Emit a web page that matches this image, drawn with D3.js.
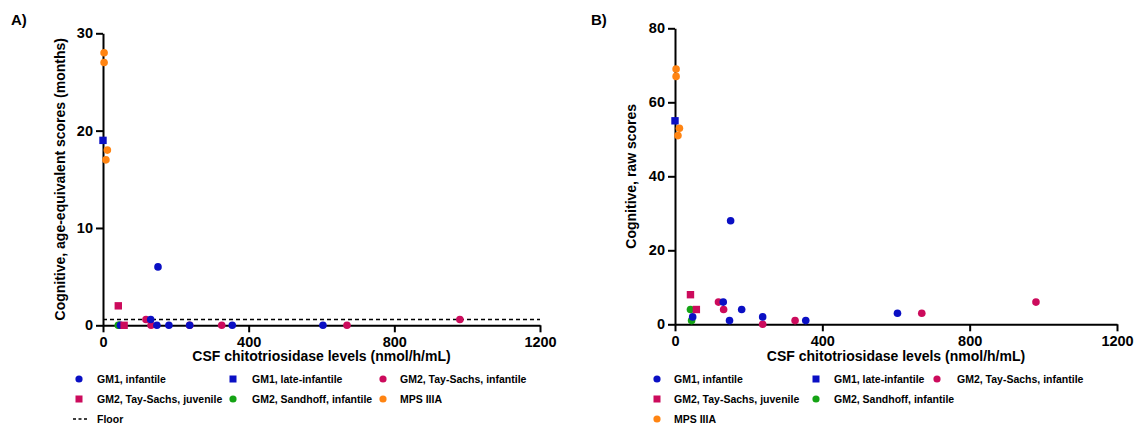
<!DOCTYPE html>
<html>
<head>
<meta charset="utf-8">
<script src="https://cdn.jsdelivr.net/npm/d3@7"></script>
<style>
  body { margin: 0; background: #fff; }
  svg text { font-family: "Liberation Sans", Arial, sans-serif; font-weight: bold; fill: #000; }
</style>
</head>
<body>
<div id="chart"></div>
<script>
const width = 1137;
const height = 427;

// groups, in legend order
const groups = ['GM1, infantile', 'GM1, late-infantile', 'GM2, Tay-Sachs, infantile',
                'GM2, Tay-Sachs, juvenile', 'GM2, Sandhoff, infantile', 'MPS IIIA'];
const groupShapes = ['circle', 'square', 'circle', 'square', 'circle', 'circle'];
const groupColors = ['#0a0fc4', '#0a0fc4', '#cc0b5c', '#cc0b5c', '#14a314', '#ff8412'];

// CSF chitotriosidase (x), cognitive age-equivalent (A) and raw scores (B)
const gm1InfX  = [48, 131, 148, 151, 181, 238, 355, 604];
const gm1InfA  = [0, 0.6, 0, 6, 0, 0, 0, 0];
const gm1InfB  = [2, 6, 1, 28, 4, 2, 1, 3];

const gm1LateX = [0];
const gm1LateA = [19];
const gm1LateB = [55];

const tsInfX   = [118, 132, 238, 326, 670, 980];
const tsInfA   = [0.6, 0, 0, 0, 0, 0.6];
const tsInfB   = [6, 4, 0, 1, 3, 6];

const tsJuvX   = [42, 58];
const tsJuvA   = [2, 0];
const tsJuvB   = [8, 4];

const sandX    = [42, 45];
const sandA    = [0, 0];
const sandB    = [4, 1];

const mpsX     = [3, 3, 12, 8];
const mpsA     = [28, 27, 18, 17];
const mpsB     = [69, 67, 53, 51];

const floorA = 0.6;

const xTicks = [0, 400, 800, 1200];
const yTicksA = [0, 10, 20, 30];
const yTicksB = [0, 20, 40, 60, 80];

const groupX = [gm1InfX, gm1LateX, tsInfX, tsJuvX, sandX, mpsX];
const groupA = [gm1InfA, gm1LateA, tsInfA, tsJuvA, sandA, mpsA];
const groupB = [gm1InfB, gm1LateB, tsInfB, tsJuvB, sandB, mpsB];

// draw order so overlaps look like the original
const drawOrder = [4, 2, 0, 1, 3, 5];

const svg = d3.select('#chart')
    .append('svg')
    .attr('width', width)
    .attr('height', height);

function drawPanel(p) {
    const g = svg.append('g');

    const xScale = d3.scaleLinear().domain([0, 1200]).range([p.left, p.right]);
    const yScale = d3.scaleLinear().domain([0, p.yMax]).range([p.bottom, p.top]);

    const xAxis = d3.axisBottom(xScale).tickValues(xTicks).tickFormat(d3.format('d'))
        .tickSize(7).tickSizeOuter(0).tickPadding(4);
    const yAxis = d3.axisLeft(yScale).tickValues(p.yTicks).tickFormat(d3.format('d'))
        .tickSize(7).tickSizeOuter(0).tickPadding(3);

    const xg = g.append('g')
        .attr('transform', `translate(0, ${p.bottom})`)
        .call(xAxis);
    const yg = g.append('g')
        .attr('transform', `translate(${p.left}, 0)`)
        .call(yAxis);

    [xg, yg].forEach(a => {
        a.selectAll('path, line').attr('stroke', '#000').attr('stroke-width', 2);
        a.selectAll('text').style('font-size', '14.5px').style('font-family', '"Liberation Sans", Arial, sans-serif').style('font-weight', 'bold');
    });

    if (p.floor !== undefined) {
        g.append('line')
            .attr('x1', xScale(0)).attr('x2', xScale(1200))
            .attr('y1', yScale(p.floor)).attr('y2', yScale(p.floor))
            .attr('stroke', '#000')
            .attr('stroke-width', 1.6)
            .attr('stroke-dasharray', '4,3');
    }

    drawOrder.forEach(i => {
        const pts = groupX[i].map((x, k) => ({ x: x, y: p.values[i][k] }));
        if (groupShapes[i] === 'circle') {
            g.selectAll(null).data(pts).enter().append('circle')
                .attr('cx', d => xScale(d.x))
                .attr('cy', d => yScale(d.y))
                .attr('r', 3.8)
                .attr('fill', groupColors[i]);
        } else {
            g.selectAll(null).data(pts).enter().append('rect')
                .attr('x', d => xScale(d.x) - 3.7)
                .attr('y', d => yScale(d.y) - 3.7)
                .attr('width', 7.4)
                .attr('height', 7.4)
                .attr('fill', groupColors[i]);
        }
    });

    // panel letter
    g.append('text')
        .attr('x', p.letterX).attr('y', 25)
        .style('font-size', '15px')
        .text(p.letter);

    // axis titles
    g.append('text')
        .attr('text-anchor', 'middle')
        .attr('x', (p.left + p.right) / 2)
        .attr('y', 361)
        .style('font-size', '14px')
        .text('CSF chitotriosidase levels (nmol/h/mL)');

    g.append('text')
        .attr('text-anchor', 'middle')
        .attr('transform', 'rotate(-90)')
        .attr('x', -(p.top + p.bottom) / 2)
        .attr('y', p.yTitleX)
        .style('font-size', '14px')
        .text(p.yTitle);

    // legend
    p.legend.forEach(item => {
        const lg = g.append('g');
        if (item.group === -1) {
            lg.append('line')
                .attr('x1', item.mx - 6).attr('x2', item.mx + 8)
                .attr('y1', item.y).attr('y2', item.y)
                .attr('stroke', '#000')
                .attr('stroke-width', 1.6)
                .attr('stroke-dasharray', '3,2.5');
            lg.append('text')
                .attr('x', item.tx).attr('y', item.y + 4)
                .style('font-size', '10.5px')
                .text('Floor');
            return;
        }
        const i = item.group;
        if (groupShapes[i] === 'circle') {
            lg.append('circle').attr('cx', item.mx).attr('cy', item.y).attr('r', 3.6).attr('fill', groupColors[i]);
        } else {
            lg.append('rect').attr('x', item.mx - 3.5).attr('y', item.y - 3.5)
                .attr('width', 7).attr('height', 7).attr('fill', groupColors[i]);
        }
        lg.append('text')
            .attr('x', item.tx).attr('y', item.y + 4)
            .style('font-size', '10.5px')
            .text(groups[i]);
    });
}

drawPanel({
    letter: 'A)', letterX: 11,
    left: 103, right: 540, top: 33.3, bottom: 325.3,
    yMax: 30, yTicks: yTicksA, values: groupA, floor: floorA,
    yTitle: 'Cognitive, age-equivalent scores (months)', yTitleX: 65,
    legend: [
        { group: 0, mx: 79, tx: 97, y: 379 },
        { group: 1, mx: 233, tx: 252, y: 379 },
        { group: 2, mx: 383, tx: 400, y: 379 },
        { group: 3, mx: 79, tx: 97, y: 399 },
        { group: 4, mx: 233, tx: 252, y: 399 },
        { group: 5, mx: 383, tx: 400, y: 399 },
        { group: -1, mx: 79, tx: 97, y: 419 }
    ]
});

drawPanel({
    letter: 'B)', letterX: 591,
    left: 675, right: 1117, top: 28.3, bottom: 324.3,
    yMax: 80, yTicks: yTicksB, values: groupB,
    yTitle: 'Cognitive, raw scores', yTitleX: 636,
    legend: [
        { group: 0, mx: 657, tx: 674, y: 379 },
        { group: 1, mx: 816, tx: 834, y: 379 },
        { group: 2, mx: 937, tx: 957, y: 379 },
        { group: 3, mx: 657, tx: 674, y: 399 },
        { group: 4, mx: 816, tx: 834, y: 399 },
        { group: 5, mx: 657, tx: 674, y: 419 }
    ]
});
</script>
</body>
</html>
